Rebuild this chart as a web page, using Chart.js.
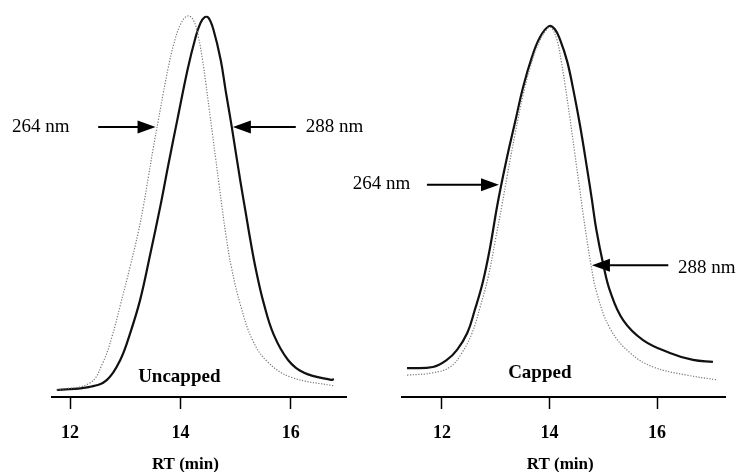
<!DOCTYPE html>
<html><head><meta charset="utf-8">
<script src="https://cdn.jsdelivr.net/npm/chart.js@4.4.1/dist/chart.umd.min.js"></script>
<style>
html,body{margin:0;padding:0;background:#fff;width:738px;height:472px;overflow:hidden}
.p{position:absolute;top:0;height:472px}
#wl{left:0;width:370px}
#wr{left:340px;width:398px}
</style></head><body>
<div class="p" id="wl"><canvas id="cl"></canvas></div>
<div class="p" id="wr"><canvas id="cr"></canvas></div>
<script>
// ---- data ----
const tickValues = [12, 14, 16];
const axisTitle = 'RT (min)';

// Uncapped, 288 nm (solid)
const unc288RT = [11.76,12.36,12.67,12.91,13.09,13.27,13.45,13.64,13.78,13.95,14.13,14.27,14.36,14.44,14.51,14.60,14.73,14.82,14.91,15.00,15.09,15.18,15.27,15.37,15.51,15.69,15.95,16.24,16.73,16.78];
const unc288A  = [1.8,2.6,4.4,9.5,16.4,24.9,36.4,49.2,59.5,71.5,84.0,92.0,95.8,97.4,97.2,94.1,86.4,78.5,71.0,63.0,55.0,47.5,40.0,32.5,24.0,16.0,9.5,6.2,4.4,4.6];
// Uncapped, 264 nm (dotted)
const unc264RT = [11.76,12.36,12.60,12.76,12.91,13.09,13.24,13.33,13.42,13.51,13.60,13.69,13.78,13.87,14.00,14.13,14.24,14.33,14.40,14.46,14.52,14.58,14.64,14.70,14.76,14.83,14.92,15.09,15.31,15.58,16.00,16.80];
const unc264A  = [1.8,3.6,9.0,15.5,23.5,33.5,42.5,49.0,56.5,64.0,71.0,78.0,84.5,90.0,95.5,97.7,96.5,92.0,86.5,80.5,74.0,67.5,61.0,54.5,48.0,41.0,33.5,23.5,14.5,9.0,5.1,2.8];
// Capped, 288 nm (solid)
const cap288RT = [11.35,11.83,12.09,12.28,12.47,12.61,12.76,12.89,13.04,13.21,13.36,13.51,13.67,13.82,13.99,14.10,14.20,14.33,14.44,14.57,14.70,14.79,14.87,15.00,15.13,15.37,15.74,16.24,16.67,17.04];
const cap288A  = [7.4,7.7,9.5,12.1,16.4,22.3,29.5,38.0,50.0,61.5,70.5,79.5,87.0,92.2,95.1,94.3,91.5,86.0,79.0,69.5,58.5,50.5,43.0,34.0,27.0,19.7,14.6,11.3,9.5,9.0];
// Capped, 264 nm (dotted)
const cap264RT = [11.35,11.83,12.15,12.37,12.56,12.71,12.86,12.99,13.12,13.21,13.36,13.51,13.64,13.79,13.97,14.04,14.14,14.22,14.29,14.38,14.47,14.56,14.63,14.70,14.77,14.88,15.13,15.50,15.93,16.56,17.12];
const cap264A  = [5.6,6.2,7.7,11.3,16.4,23.1,30.8,40.0,49.5,56.5,67.5,77.5,84.5,90.5,94.6,94.6,91.5,86.0,80.0,71.5,62.5,53.5,46.5,40.0,34.0,26.7,17.5,11.3,7.7,5.6,4.4];

// annotation labels (data coordinates)
const uncLabels = [
  {text:'264 nm', x:10.95, y:69.2, size:19, bold:false, align:'left'},
  {text:'288 nm', x:16.27, y:69.2, size:19, bold:false, align:'left'},
  {text:'Uncapped', x:13.98, y:5.1, size:19, bold:true, align:'center'},
  {text:axisTitle, x:14.09, y:-17.4, size:17, bold:true, align:'center'}
];
const uncArrows = [
  {from:12.51, to:13.55, y:69.2},
  {from:16.09, to:14.95, y:69.2}
];
const capLabels = [
  {text:'264 nm', x:10.34, y:54.6, size:19, bold:false, align:'left'},
  {text:'288 nm', x:16.39, y:33.1, size:19, bold:false, align:'left'},
  {text:'Capped', x:13.82, y:6.2, size:19, bold:true, align:'center'},
  {text:axisTitle, x:14.20, y:-17.4, size:17, bold:true, align:'center'}
];
const capArrows = [
  {from:11.72, to:13.06, y:54.4},
  {from:16.21, to:14.79, y:33.8}
];

const FONT = "'Liberation Serif','Times New Roman',serif";

const notesPlugin = {
  id: 'notes',
  afterDatasetsDraw(chart, args, opts) {
    const {ctx} = chart; const x = chart.scales.x, y = chart.scales.y;
    ctx.save();
    (opts.arrows || []).forEach(a => {
      const x0 = x.getPixelForValue(a.from), x1 = x.getPixelForValue(a.to), py = y.getPixelForValue(a.y);
      const d = Math.sign(x1 - x0);
      ctx.strokeStyle = '#000'; ctx.lineWidth = 2;
      ctx.beginPath(); ctx.moveTo(x0, py); ctx.lineTo(x1 - d * 14, py); ctx.stroke();
      ctx.fillStyle = '#000';
      ctx.beginPath(); ctx.moveTo(x1, py); ctx.lineTo(x1 - d * 18, py - 6.5); ctx.lineTo(x1 - d * 18, py + 6.5); ctx.closePath(); ctx.fill();
    });
    (opts.labels || []).forEach(t => {
      ctx.font = (t.bold ? 'bold ' : '') + t.size + 'px ' + FONT;
      ctx.fillStyle = '#000';
      ctx.textAlign = t.align; ctx.textBaseline = 'middle';
      ctx.fillText(t.text, x.getPixelForValue(t.x), y.getPixelForValue(t.y));
    });
    ctx.restore();
  }
};

function pts(xs, ys) { return xs.map((v, i) => ({x: v, y: ys[i]})); }

function makeChart(id, solidX, solidY, dotX, dotY, xmin, xmax, padL, padR, labels, arrows) {
  return new Chart(document.getElementById(id), {
    type: 'line',
    data: {datasets: [
      {data: pts(dotX, dotY), borderColor: '#777777', borderWidth: 1.2, borderDash: [1.2, 1.6], pointRadius: 0, tension: 0.4, fill: false},
      {data: pts(solidX, solidY), borderColor: '#111', borderWidth: 2.2, pointRadius: 0, tension: 0.4, fill: false}
    ]},
    options: {
      responsive: true, maintainAspectRatio: false, animation: false,
      layout: {padding: {left: padL, right: padR, top: 7, bottom: 0}},
      plugins: {legend: {display: false}, tooltip: {enabled: false}, notes: {labels: labels, arrows: arrows}},
      scales: {
        x: {
          type: 'linear', min: xmin, max: xmax,
          afterBuildTicks: s => { s.ticks = tickValues.map(v => ({value: v})); },
          afterFit: s => { s.height = 75; },
          border: {display: true, color: '#000', width: 2},
          grid: {display: true, drawOnChartArea: false, drawTicks: true, tickLength: 12, tickWidth: 1.5, tickColor: '#000'},
          ticks: {color: '#000', padding: 14, maxRotation: 0, autoSkip: false, font: {family: FONT, size: 18, weight: 'bold'}},
          title: {display: false}
        },
        y: {display: false, min: 0, max: 100}
      }
    },
    plugins: [notesPlugin]
  });
}

makeChart('cl', unc288RT, unc288A, unc264RT, unc264A, 11.673, 17.0, 52, 24, uncLabels, uncArrows);
makeChart('cr', cap288RT, cap288A, cap264RT, cap264A, 11.256, 17.265, 62, 13, capLabels, capArrows);
</script>
</body></html>
